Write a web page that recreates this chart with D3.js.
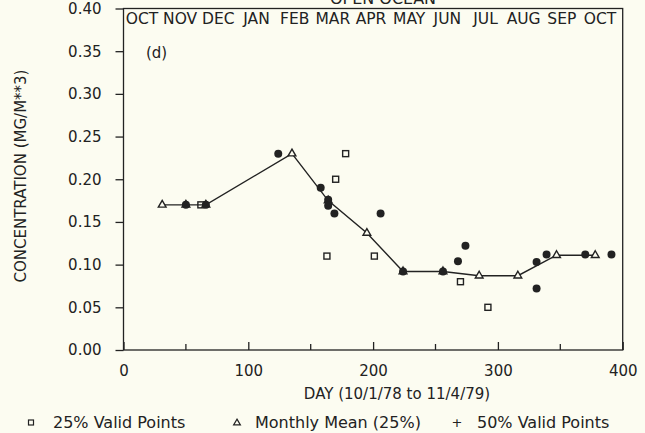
<!DOCTYPE html>
<html>
<head>
<meta charset="utf-8">
<script src="https://cdn.jsdelivr.net/npm/d3@7"></script>
<style>
  body { margin: 0; background: #fcfcf1; }
  svg text { font-family: "DejaVu Sans", "Liberation Sans", sans-serif; fill: #222; }
</style>
</head>
<body>
<div id="chart"></div>
<script>
// Values
const monthLabels = ["OCT", "NOV", "DEC", "JAN", "FEB", "MAR", "APR", "MAY", "JUN", "JUL", "AUG", "SEP", "OCT"];
const xTicks = [0, 100, 200, 300, 400];
const xMinorTicks = [50, 150, 250, 350];
const yTicks = [0, 0.05, 0.10, 0.15, 0.20, 0.25, 0.30, 0.35, 0.40];

// 25% valid points (open squares)
const validDays25 = [62, 163, 170, 178, 201, 270, 292];
const validVals25 = [0.17, 0.11, 0.20, 0.23, 0.11, 0.08, 0.05];

// monthly mean (25%) - triangles joined by a line
const meanDays = [31, 50, 66, 135, 164, 195, 224, 256, 285, 316, 347, 378];
const meanVals = [0.17, 0.17, 0.17, 0.23, 0.175, 0.137, 0.092, 0.092, 0.087, 0.087, 0.111, 0.111];

// 50% valid points (filled)
const validDays50 = [50, 66, 124, 158, 164, 164, 169, 206, 224, 256, 268, 274, 331, 331, 339, 370, 391];
const validVals50 = [0.17, 0.17, 0.23, 0.19, 0.176, 0.169, 0.16, 0.16, 0.092, 0.092, 0.104, 0.122, 0.103, 0.072, 0.112, 0.112, 0.112];

function drawChart() {
  const width = 645;
  const height = 433;
  const margin = { left: 123.5, right: 22.3, top: 8.5, bottom: 83 };
  const ink = "#222";
  const paper = "#fcfcf1";

  d3.select("#chart svg").remove();

  const svg = d3.select("#chart")
    .append("svg")
    .attr("width", width)
    .attr("height", height);

  const x = d3.scaleLinear().domain([0, 400]).range([margin.left, width - margin.right]);
  const y = d3.scaleLinear().domain([0, 0.4]).range([height - margin.bottom, margin.top]);

  // title, cut off by the top edge of the scan
  svg.append("text")
    .attr("x", 383).attr("y", 4)
    .attr("text-anchor", "middle")
    .style("font-size", "16px")
    .text("OPEN OCEAN");

  // frame
  svg.append("rect")
    .attr("x", x(0)).attr("y", y(0.4))
    .attr("width", x(400) - x(0)).attr("height", y(0) - y(0.4))
    .attr("fill", "none").attr("stroke", ink).attr("stroke-width", 1.3);

  // y axis
  const yAxis = svg.append("g")
    .attr("transform", `translate(${x(0)},0)`)
    .call(d3.axisLeft(y).tickValues(yTicks).tickFormat(d3.format(".2f")).tickSize(8).tickPadding(14));
  yAxis.select(".domain").remove();
  yAxis.selectAll("line").attr("stroke", ink).attr("stroke-width", 1.3);
  yAxis.selectAll("text").style("font-size", "15px").attr("fill", ink);

  // x axis
  const xAxis = svg.append("g")
    .attr("transform", `translate(0,${y(0)})`)
    .call(d3.axisTop(x).tickValues(xTicks).tickFormat(d3.format("d")).tickSize(8));
  xAxis.select(".domain").remove();
  xAxis.selectAll("line").attr("stroke", ink).attr("stroke-width", 1.3);
  xAxis.selectAll("text").attr("y", 26).attr("dy", "0").style("font-size", "15px").attr("fill", ink);

  svg.append("g")
    .selectAll("line")
    .data(xMinorTicks)
    .enter()
    .append("line")
    .attr("x1", (d) => x(d)).attr("x2", (d) => x(d))
    .attr("y1", y(0)).attr("y2", y(0) - 6)
    .attr("stroke", ink).attr("stroke-width", 1.3);

  // month labels inside the top of the frame
  const m = d3.scalePoint().domain(d3.range(monthLabels.length)).range([142, 600]);
  svg.append("g")
    .selectAll("text")
    .data(monthLabels)
    .enter()
    .append("text")
    .attr("x", (d, i) => m(i))
    .attr("y", 24)
    .attr("text-anchor", "middle")
    .style("font-size", "15.5px")
    .text((d) => d);

  svg.append("text")
    .attr("x", 146).attr("y", 58)
    .style("font-size", "15px")
    .text("(d)");

  // axis titles
  svg.append("text")
    .attr("x", 397).attr("y", 399)
    .attr("text-anchor", "middle")
    .style("font-size", "15px")
    .text("DAY (10/1/78 to 11/4/79)");

  svg.append("text")
    .attr("transform", "translate(26,176) rotate(-90)")
    .attr("text-anchor", "middle")
    .style("font-size", "15px")
    .text("CONCENTRATION (MG/M**3)");

  const plot = svg.append("g");

  // monthly mean line
  const meanData = meanDays.map((d, i) => [d, meanVals[i]]);
  plot.append("path")
    .datum(meanData)
    .attr("d", d3.line().x((d) => x(d[0])).y((d) => y(d[1])))
    .attr("fill", "none")
    .attr("stroke", ink)
    .attr("stroke-width", 1.4);

  const tri = d3.symbol().type(d3.symbolTriangle).size(26);
  plot.append("g")
    .selectAll("path")
    .data(meanData)
    .enter()
    .append("path")
    .attr("d", tri)
    .attr("transform", (d) => `translate(${x(d[0])},${y(d[1])})`)
    .attr("fill", paper)
    .attr("stroke", ink)
    .attr("stroke-width", 1.4);

  // 25% valid points
  plot.append("g")
    .selectAll("rect")
    .data(validDays25.map((d, i) => [d, validVals25[i]]))
    .enter()
    .append("rect")
    .attr("x", (d) => x(d[0]) - 3)
    .attr("y", (d) => y(d[1]) - 3)
    .attr("width", 6).attr("height", 6)
    .attr("fill", "none")
    .attr("stroke", ink)
    .attr("stroke-width", 1.4);

  // 50% valid points
  plot.append("g")
    .selectAll("circle")
    .data(validDays50.map((d, i) => [d, validVals50[i]]))
    .enter()
    .append("circle")
    .attr("cx", (d) => x(d[0]))
    .attr("cy", (d) => y(d[1]))
    .attr("r", 4)
    .attr("fill", ink);

  // legend
  const legend = svg.append("g").attr("transform", "translate(0,428)");
  legend.append("rect")
    .attr("x", 28.5).attr("y", -8).attr("width", 5).attr("height", 5)
    .attr("fill", "none").attr("stroke", ink).attr("stroke-width", 1.2);
  legend.append("path")
    .attr("d", d3.symbol().type(d3.symbolTriangle).size(20))
    .attr("transform", "translate(237,-5)")
    .attr("fill", "none").attr("stroke", ink).attr("stroke-width", 1.2);
  legend.append("text")
    .attr("x", 457).attr("y", -1)
    .attr("text-anchor", "middle")
    .style("font-size", "13px")
    .text("+");

  const legendLabels = [
    { x: 53, text: "25% Valid Points" },
    { x: 255, text: "Monthly Mean (25%)" },
    { x: 477, text: "50% Valid Points" }
  ];
  legend.selectAll(".legend-item")
    .data(legendLabels)
    .enter()
    .append("text")
    .attr("class", "legend-item")
    .attr("x", (d) => d.x)
    .attr("y", 0)
    .style("font-size", "16px")
    .text((d) => d.text);
}

drawChart();
</script>
</body>
</html>
